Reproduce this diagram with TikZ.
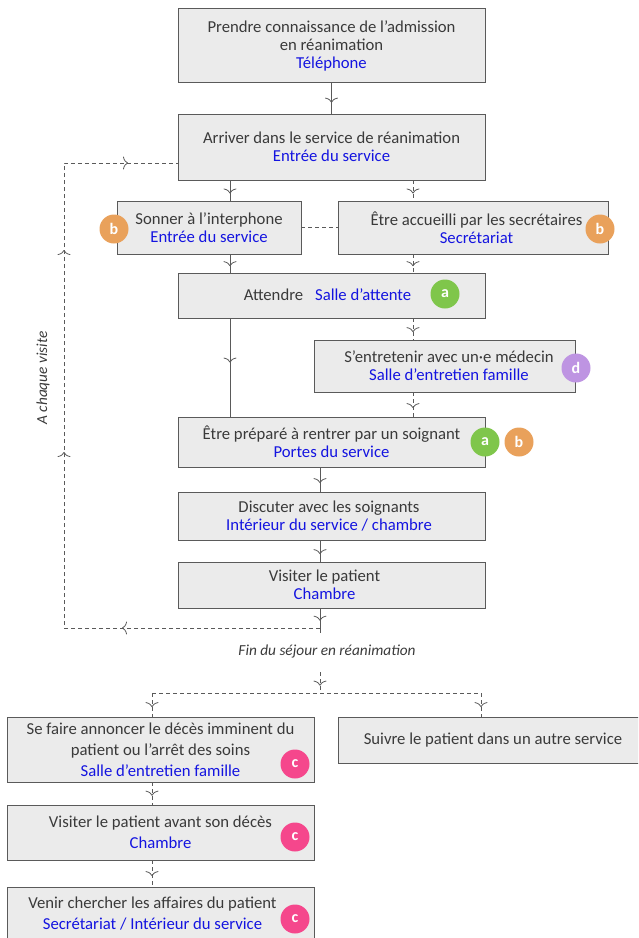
\documentclass[tikz,border=0pt]{standalone}
\usepackage{fontspec}
\setmainfont{Carlito}
\usetikzlibrary{arrows.meta,decorations.markings}
\definecolor{lineclr}{HTML}{5A5A5A}
\definecolor{boxclr}{HTML}{EBEBEB}
\definecolor{textclr}{HTML}{3A3A3A}
\definecolor{lieuclr}{HTML}{1414E0}
\definecolor{badgea}{HTML}{7FC64B}
\definecolor{badgeb}{HTML}{E9A15B}
\definecolor{badgec}{HTML}{F5478C}
\definecolor{badged}{HTML}{BE94E2}
\newcommand{\lieu}[1]{\textcolor{lieuclr}{#1}}
\newcommand{\decale}[1]{\rule{#1}{0pt}}
\tikzset{
  >={Computer Modern Rightarrow[length=5pt,width=13pt]},
  stepbox/.style={draw=lineclr,fill=boxclr,line width=.9pt,align=center,text=textclr,inner sep=0pt,
    font=\fontsize{16.7}{18}\selectfont,text depth=-1pt},
  oneline/.style={stepbox,text height=15pt,text depth=6pt},
  wideline/.style={stepbox,font=\fontsize{16.7}{21}\selectfont},
  badge/.style={circle,minimum size=29pt,inner sep=0pt,text=white,font=\fontsize{16}{16}\selectfont\bfseries},
  legend/.style={text=textclr,font=\fontsize{15.3}{18}\selectfont\itshape},
  link/.style={draw=lineclr,line width=.8pt},
  dashlink/.style={link,dash pattern=on 4pt off 3pt},
  tipat/.style={postaction={decorate,decoration={markings,mark=at position #1 with {\arrow[solid,lineclr]{>}}}}},
}
\begin{document}
\begin{tikzpicture}[x=1pt,y=-1pt]
  \useasboundingbox (0,0) rectangle (638,938);
  \clip (0,0) rectangle (638,938);
  \coordinate (colA) at (230,0);
  \coordinate (colB) at (413,0);
  \coordinate (colC) at (152,0);
  \coordinate (colD) at (481,0);
  \coordinate (colE) at (320,0);

  % boxes
  \node[stepbox,minimum width=307pt,minimum height=74pt] (prendre) at (331.5,45) {Prendre connaissance de l’admission\\en réanimation\\\lieu{Téléphone}};
  \node[stepbox,minimum width=307pt,minimum height=66pt] (arriver) at (331.5,147) {Arriver dans le service de réanimation\\\lieu{Entrée du service}};
  \node[stepbox,minimum width=184pt,minimum height=53pt] (sonner) at (209,227.5) {Sonner à l’interphone\\\lieu{Entrée du service}};
  \node[stepbox,minimum width=270pt,minimum height=53pt] (accueil) at (473,227.5) {\decale{7pt}Être accueilli par les secrétaires\\\decale{7pt}\lieu{Secrétariat}};
  \node[oneline,minimum width=307pt,minimum height=45pt] (attendre) at (331.5,295.5) {Attendre\hspace{12pt}\lieu{Salle d’attente}\decale{8pt}};
  \node[stepbox,minimum width=261pt,minimum height=52pt] (entretien) at (444.5,366) {\decale{9pt}S’entretenir avec un·e médecin\\\decale{9pt}\lieu{Salle d’entretien famille}};
  \node[stepbox,minimum width=307pt,minimum height=50pt] (prepare) at (331.5,442) {Être préparé à rentrer par un soignant\\\lieu{Portes du service}};
  \node[stepbox,minimum width=307pt,minimum height=48pt] (discuter) at (331.5,516) {Discuter avec les soignants\decale{5pt}\\\lieu{Intérieur du service / chambre}\decale{5pt}};
  \node[stepbox,minimum width=307pt,minimum height=46pt] (visiter) at (331.5,585) {Visiter le patient\decale{14pt}\\\lieu{Chambre}\decale{14pt}};
  \node[legend] (fin) at (327,651) {Fin du séjour en réanimation};
  \node[legend,rotate=90] (chaque) at (43,378) {A chaque visite};
  \node[wideline,minimum width=307pt,minimum height=65pt] (annonce) at (160.5,749.5) {Se faire annoncer le décès imminent du\\patient ou l’arrêt des soins\\\lieu{Salle d’entretien famille}};
  \node[oneline,minimum width=310pt,minimum height=46pt] (suivre) at (493,740) {Suivre le patient dans un autre service};
  \node[wideline,minimum width=307pt,minimum height=55pt] (avant) at (160.5,832.5) {Visiter le patient avant son décès\\\lieu{Chambre}};
  \node[wideline,minimum width=307pt,minimum height=52pt] (affaires) at (160.5,913) {Venir chercher les affaires du patient\decale{16pt}\\\lieu{Secrétariat / Intérieur du service}\decale{16pt}};

  % free ends
  \coordinate (boucle) at (320,628);
  \coordinate (sortie) at (320,633);
  \coordinate (finbas) at (320,672);
  \coordinate (fork) at (320,693);

  % links
  \draw[link,tipat=.65] (prendre.south) -- (arriver.north);
  \draw[link,tipat=.65] (arriver.south -| colA) -- (sonner.north -| colA);
  \draw[dashlink,tipat=.65] (arriver.south -| colB) -- (accueil.north -| colB);
  \draw[dashlink] (sonner.east) -- (accueil.west);
  \draw[link,tipat=.65] (sonner.south -| colA) -- (attendre.north -| colA);
  \draw[dashlink,tipat=.65] (accueil.south -| colB) -- (attendre.north -| colB);
  \draw[link,tipat=.45] (attendre.south -| colA) -- (prepare.north -| colA);
  \draw[dashlink,tipat=.65] (attendre.south -| colB) -- (entretien.north -| colB);
  \draw[dashlink,tipat=.65] (entretien.south -| colB) -- (prepare.north -| colB);
  \draw[link,tipat=.65] (prepare.south -| colE) -- (discuter.north -| colE);
  \draw[link,tipat=.65] (discuter.south -| colE) -- (visiter.north -| colE);
  \draw[link,tipat=.5] (visiter.south -| colE) -- (sortie);
  \draw[dashlink,tipat=198pt,tipat=432pt,tipat=634pt,tipat=785pt] (boucle) -- (64,628) -- (64,163) -- (arriver.west |- 0,163);
  \draw[dashlink,tipat=.65] (finbas) -- (fork);
  \draw[dashlink] (fork -| colC) -- (fork -| colD);
  \draw[dashlink,tipat=.6] (fork -| colC) -- (annonce.north -| colC);
  \draw[dashlink,tipat=.6] (fork -| colD) -- (suivre.north -| colD);
  \draw[dashlink,tipat=.6] (annonce.south -| colC) -- (avant.north -| colC);
  \draw[dashlink,tipat=.6] (avant.south -| colC) -- (affaires.north -| colC);

  % badges
  \foreach \x/\y/\lettre/\teinte [count=\i] in {114/229/b/badgeb,600/229/b/badgeb,445/294/a/badgea,576/368/d/badged,485/442/a/badgea,519/442/b/badgeb,295/764/c/badgec,295/837/c/badgec,295/919/c/badgec} {
    \node[badge,fill=\teinte] (badge\i) at (\x,\y) {\lettre};
  }
\end{tikzpicture}
\end{document}
